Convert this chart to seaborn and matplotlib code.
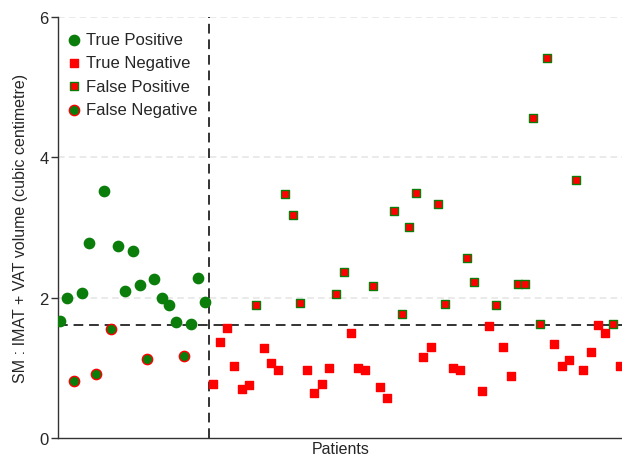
import pandas as pd
import matplotlib
matplotlib.use('Agg')
import matplotlib.pyplot as plt
import seaborn as sns

# SM : (IMAT + VAT) ratio per patient, in plotting order
ratio = [
    1.67, 1.99, 0.81, 2.07, 2.78, 0.91, 3.52, 1.55, 2.74, 2.09, 2.66,
    2.18, 1.13, 2.26, 2.00, 1.90, 1.65, 1.17, 1.62, 2.28, 1.93,
    0.77, 1.37, 1.56, 1.03, 0.69, 0.75, 1.90, 1.28, 1.06, 0.97,
    3.47, 3.17, 1.92, 0.97, 0.64, 0.77, 0.99, 2.05, 2.37, 1.50,
    1.00, 0.96, 2.17, 0.72, 0.57, 3.23, 1.76, 3.01, 3.49, 1.15,
    1.29, 3.33, 1.91, 1.00, 0.97, 2.57, 2.22, 0.67, 1.60, 1.89,
    1.29, 0.88, 2.19, 2.20, 4.56, 1.62, 5.41, 1.34, 1.02, 1.11,
    3.67, 0.97, 1.22, 1.61, 1.50, 1.62, 1.03,
]
# TP = true positive, FN = false negative, TN = true negative, FP = false positive
outcome = [
    'TP', 'TP', 'FN', 'TP', 'TP', 'FN', 'TP', 'FN', 'TP', 'TP', 'TP',
    'TP', 'FN', 'TP', 'TP', 'TP', 'TP', 'FN', 'TP', 'TP', 'TP',
    'TN', 'TN', 'TN', 'TN', 'TN', 'TN', 'FP', 'TN', 'TN', 'TN',
    'FP', 'FP', 'FP', 'TN', 'TN', 'TN', 'TN', 'FP', 'FP', 'TN',
    'TN', 'TN', 'FP', 'TN', 'TN', 'FP', 'FP', 'FP', 'FP', 'TN',
    'TN', 'FP', 'FP', 'TN', 'TN', 'FP', 'FP', 'TN', 'TN', 'FP',
    'TN', 'TN', 'FP', 'FP', 'FP', 'FP', 'FP', 'TN', 'TN', 'TN',
    'FP', 'TN', 'TN', 'TN', 'TN', 'FP', 'TN',
]
n_positive = 21      # patients left of the vertical divider
cutoff = 1.61        # threshold line

df = pd.DataFrame({'patient': range(len(ratio)), 'ratio': ratio, 'outcome': outcome})

green = '#0b7d0b'
red = '#ff0000'
styles = {
    'TP': dict(label='True Positive', marker='o', color=green, edgecolor=green, s=55),
    'TN': dict(label='True Negative', marker='s', color=red, edgecolor=red, s=40),
    'FP': dict(label='False Positive', marker='s', color=red, edgecolor=green, s=40),
    'FN': dict(label='False Negative', marker='o', color=green, edgecolor=red, s=55),
}

sns.set_style('white')
plt.rcParams['font.family'] = ['Liberation Sans', 'DejaVu Sans']

fig = plt.figure(figsize=(6.22, 4.6), dpi=100)
ax = fig.add_axes([0.094, 0.046, 0.906, 0.915])

for y in [2, 4, 6]:
    ax.axhline(y, color='#e6e6e6', lw=1.2, ls=(0, (4, 2.5)), zorder=0)

ax.axhline(cutoff, color='#333333', lw=1.4, ls=(0, (5, 3)), zorder=1)
ax.axvline(n_positive - 0.5, color='#333333', lw=1.4, ls=(0, (5, 3)), zorder=1)

for key in ['TP', 'TN', 'FP', 'FN']:
    st = styles[key]
    sub = df[df['outcome'] == key]
    sns.scatterplot(data=sub, x='patient', y='ratio', ax=ax, marker=st['marker'],
                    color=st['color'], edgecolor=st['edgecolor'], linewidth=1.0,
                    s=st['s'], label=st['label'], zorder=3)

ax.set_xlim(-0.2, 77.3)
ax.set_ylim(0, 6)
ax.set_yticks([0, 2, 4, 6])
ax.set_xticks([])
ax.tick_params(axis='y', labelsize=12, length=5, width=1, color='#333333', left=True, pad=2)
ax.set_xlabel('Patients', fontsize=11.5, labelpad=2)
ax.set_ylabel('SM : IMAT + VAT volume (cubic centimetre)', fontsize=11.5, labelpad=8)

sns.despine(ax=ax)
for side in ['left', 'bottom']:
    ax.spines[side].set_color('#333333')
    ax.spines[side].set_linewidth(1.0)

ax.legend(loc='upper left', bbox_to_anchor=(-0.005, 0.988), frameon=False, fontsize=12,
          handlelength=1.0, handletextpad=0.2, labelspacing=0.5, borderaxespad=0.3,
          borderpad=0.3)

plt.savefig('out.png', dpi=100)
